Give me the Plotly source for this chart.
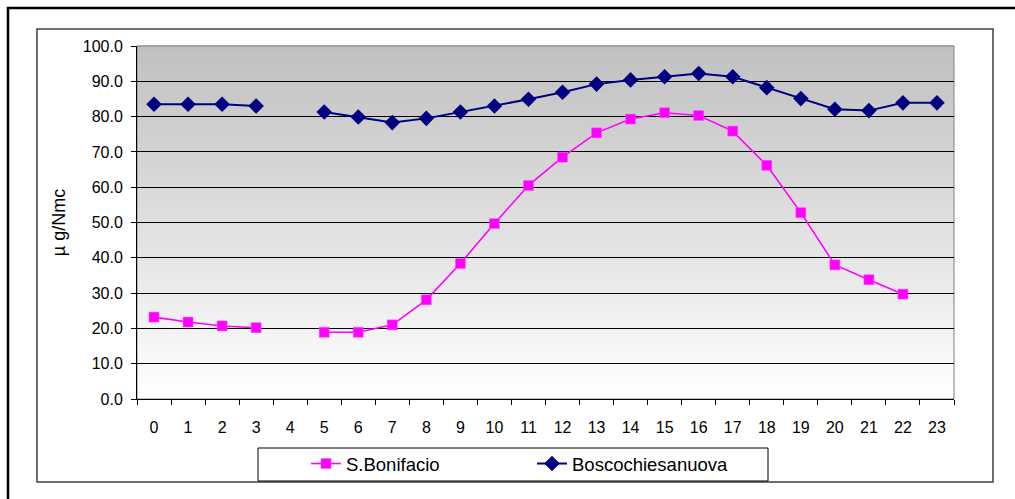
import plotly.graph_objects as go

# Hourly profile (hours 0-23); None marks an hour with no measurement
hours = [str(h) for h in range(24)]
s_bonifacio = [23.2, 21.8, 20.7, 20.2, None, 18.9, 18.9, 21.0, 28.1, 38.4,
               49.7, 60.5, 68.5, 75.4, 79.3, 81.1, 80.3, 75.9, 66.2, 52.8,
               38.0, 33.8, 29.7, None]
boscochiesanuova = [83.5, 83.5, 83.5, 83.0, None, 81.3, 79.9, 78.3, 79.5, 81.3,
                    83.0, 84.9, 86.9, 89.2, 90.4, 91.3, 92.2, 91.3, 88.2, 85.1,
                    82.1, 81.7, 83.9, 83.9]
y_title = "µ g/Nmc"

W, H = 1015, 499
L, R, T, B = 137, 954, 46, 399  # plot area in pixels
FONT = "Liberation Sans, Arial, sans-serif"


def px_x(p):
    return (p - L) / (R - L)


def px_y(p):
    return (B - p) / (B - T)


fig = go.Figure()
fig.add_trace(go.Scatter(
    x=hours, y=s_bonifacio, name="S.Bonifacio", mode="lines+markers",
    line=dict(color="#FF00FF", width=1.6),
    marker=dict(symbol="square", size=10, color="#FF00FF",
                line=dict(color="#FF55FF", width=0.5)),
))
fig.add_trace(go.Scatter(
    x=hours, y=boscochiesanuova, name="Boscochiesanuova", mode="lines+markers",
    line=dict(color="#000080", width=2),
    marker=dict(symbol="diamond", size=12, color="#000080"),
))

shapes = []
# grey-to-white vertical gradient behind the plot area
n = 90
for i in range(n):
    t = (i + 0.5) / n
    v = int(round(255 - 63 * t))
    shapes.append(dict(type="rect", xref="paper", yref="paper",
                       x0=0, x1=1, y0=i / n, y1=(i + 1) / n + 0.002,
                       fillcolor=f"rgb({v},{v},{v})", line=dict(width=0),
                       layer="below"))
# plot-area frame (top/right grey)
shapes.append(dict(type="rect", xref="paper", yref="paper", x0=0, x1=1, y0=0, y1=1,
                   line=dict(color="#808080", width=1), layer="below"))
# chart-area frame
shapes.append(dict(type="rect", xref="paper", yref="paper",
                   x0=px_x(37), x1=px_x(993), y0=px_y(482), y1=px_y(29),
                   line=dict(color="#404040", width=1.5), layer="below"))
# outer frame
shapes.append(dict(type="rect", xref="paper", yref="paper",
                   x0=px_x(8), x1=px_x(1030), y0=px_y(515), y1=px_y(8),
                   line=dict(color="#000000", width=2.5), layer="below"))
# legend box
shapes.append(dict(type="rect", xref="paper", yref="paper",
                   x0=px_x(258), x1=px_x(768), y0=px_y(481), y1=px_y(448),
                   line=dict(color="#000000", width=1), fillcolor="white",
                   layer="above"))

fig.update_layout(
    width=W, height=H,
    margin=dict(l=L, r=W - R, t=T, b=H - B),
    paper_bgcolor="white", plot_bgcolor="rgba(0,0,0,0)",
    font=dict(family=FONT, color="black", size=16),
    shapes=shapes,
    showlegend=True,
    legend=dict(orientation="h", x=px_x(306), xanchor="left",
                y=px_y(464), yanchor="middle",
                bgcolor="rgba(0,0,0,0)", borderwidth=0,
                font=dict(size=18.5, family=FONT), entrywidth=181,
                tracegroupgap=0),
    xaxis=dict(type="category", categoryorder="array", categoryarray=hours,
               range=[-0.5, 23.5], tickson="boundaries", ticks="outside",
               ticklen=5, tickcolor="black", showline=True, linecolor="black",
               linewidth=1, showgrid=False, zeroline=False,
               tickfont=dict(size=16), ticklabelstandoff=14, fixedrange=True),
    yaxis=dict(range=[0, 100], dtick=10, tickformat=".1f", ticks="outside",
               ticklen=5, tickcolor="black", showline=True, linecolor="black",
               linewidth=1, showgrid=True, gridcolor="black", gridwidth=1,
               zeroline=False, tickfont=dict(size=16), ticklabelstandoff=5,
               title=dict(text=y_title, font=dict(size=18), standoff=12),
               fixedrange=True),
)

fig.write_html("out.html")
